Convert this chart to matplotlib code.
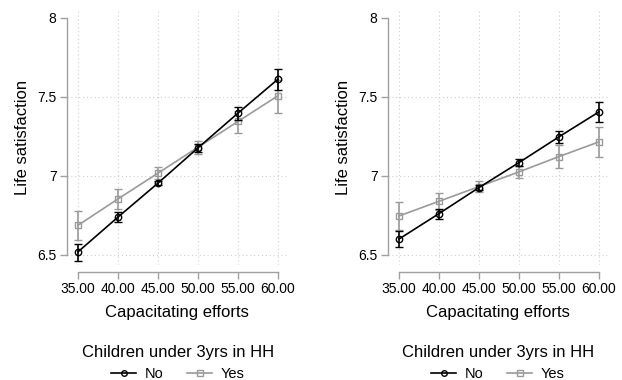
import matplotlib
matplotlib.use('Agg')
import matplotlib.pyplot as plt
from matplotlib.lines import Line2D

plt.rcParams['font.family'] = ['Liberation Sans', 'DejaVu Sans']

# ---- data ----
efforts = [35, 40, 45, 50, 55, 60]
xtick_labels = ['35.00', '40.00', '45.00', '50.00', '55.00', '60.00']
yticks = [6.5, 7, 7.5, 8]
ytick_labels = ['6.5', '7', '7.5', '8']
series_names = ['No', 'Yes']

# left panel
left_no = [6.52, 6.74, 6.955, 7.178, 7.398, 7.613]
left_no_lo = [6.46, 6.71, 6.94, 7.155, 7.356, 7.546]
left_no_hi = [6.57, 6.77, 6.97, 7.20, 7.436, 7.68]
left_yes = [6.688, 6.855, 7.018, 7.182, 7.345, 7.508]
left_yes_lo = [6.595, 6.79, 6.98, 7.14, 7.275, 7.40]
left_yes_hi = [6.78, 6.916, 7.056, 7.22, 7.41, 7.61]

# right panel
right_no = [6.601, 6.762, 6.927, 7.085, 7.248, 7.406]
right_no_lo = [6.548, 6.73, 6.912, 7.065, 7.208, 7.339]
right_no_hi = [6.654, 6.79, 6.942, 7.105, 7.286, 7.47]
right_yes = [6.747, 6.84, 6.933, 7.026, 7.123, 7.216]
right_yes_lo = [6.658, 6.785, 6.90, 6.986, 7.049, 7.119]
right_yes_hi = [6.834, 6.895, 6.97, 7.066, 7.197, 7.313]

xlabel = 'Capacitating efforts'
ylabel = 'Life satisfaction'
legend_title = 'Children under 3yrs in HH'

BLACK = '#000000'
GREY = '#9a9a9a'
AXC = '#a0a0a0'

W, H = 622, 380
fig = plt.figure(figsize=(W / 100, H / 100), dpi=100)

def draw(ax_left_px, no, no_lo, no_hi, yes, yes_lo, yes_hi):
    ax = fig.add_axes([ax_left_px / W, (H - 265) / H, 220 / W, 255 / H])
    ax.set_xlim(33.625, 61.125)
    ax.set_ylim(6.4367, 8.0506)
    # grid
    for xv in efforts:
        ax.axvline(xv, color='#cfcfcf', lw=0.8, ls=(0, (1, 2.5)), zorder=0)
    for yv in yticks[:-1]:
        ax.axhline(yv, color='#cfcfcf', lw=0.8, ls=(0, (1, 2.5)), zorder=0)
    for vals, lo, hi, col, mk, z in [
        (yes, yes_lo, yes_hi, GREY, 's', 2),
        (no, no_lo, no_hi, BLACK, 'o', 3),
    ]:
        err = [[v - l for v, l in zip(vals, lo)], [h - v for v, h in zip(vals, hi)]]
        ax.errorbar(efforts, vals, yerr=err, color=col, lw=1.2, elinewidth=1.2,
                    capsize=2.7, capthick=1.2, marker=mk, markersize=4.6,
                    markerfacecolor='none', markeredgecolor=col, markeredgewidth=1.0,
                    zorder=z)
    for s in ['top', 'right']:
        ax.spines[s].set_visible(False)
    ax.spines['left'].set_bounds(6.5, 8)
    ax.spines['bottom'].set_bounds(35, 60)
    ax.spines['bottom'].set_position(('outward', 5))
    for s in ['left', 'bottom']:
        ax.spines[s].set_color(AXC)
        ax.spines[s].set_linewidth(1.0)
    ax.set_xticks(efforts)
    ax.set_xticklabels(xtick_labels)
    ax.set_yticks(yticks)
    ax.set_yticklabels(ytick_labels)
    ax.tick_params(axis='both', colors=AXC, labelcolor='black', labelsize=10,
                   length=5, width=1.0)
    ax.tick_params(axis='y', pad=2.5)
    ax.tick_params(axis='x', pad=2.5)
    ax.set_ylabel(ylabel, fontsize=12, labelpad=5)
    ax.set_xlabel(xlabel, fontsize=12, labelpad=6)
    return ax

axes = [
    draw(67, left_no, left_no_lo, left_no_hi, left_yes, left_yes_lo, left_yes_hi),
    draw(388, right_no, right_no_lo, right_no_hi, right_yes, right_yes_lo, right_yes_hi),
]

centers = [178, 498]
for cx in centers:
    fig.text(cx / W, 1 - 353 / H, legend_title, ha='center', va='center', fontsize=12)
    handles = [
        Line2D([], [], color=BLACK, lw=1.2, marker='o', markersize=4,
               markerfacecolor='none', markeredgecolor=BLACK),
        Line2D([], [], color=GREY, lw=1.2, marker='s', markersize=4,
               markerfacecolor='none', markeredgecolor=GREY),
    ]
    fig.legend(handles, series_names, loc='center', ncol=2,
               bbox_to_anchor=(cx / W, 1 - 374 / H), frameon=False, fontsize=10.5,
               handlelength=1.7, handletextpad=0.6, columnspacing=1.6,
               borderpad=0, borderaxespad=0)

fig.savefig('out.png', dpi=100)
